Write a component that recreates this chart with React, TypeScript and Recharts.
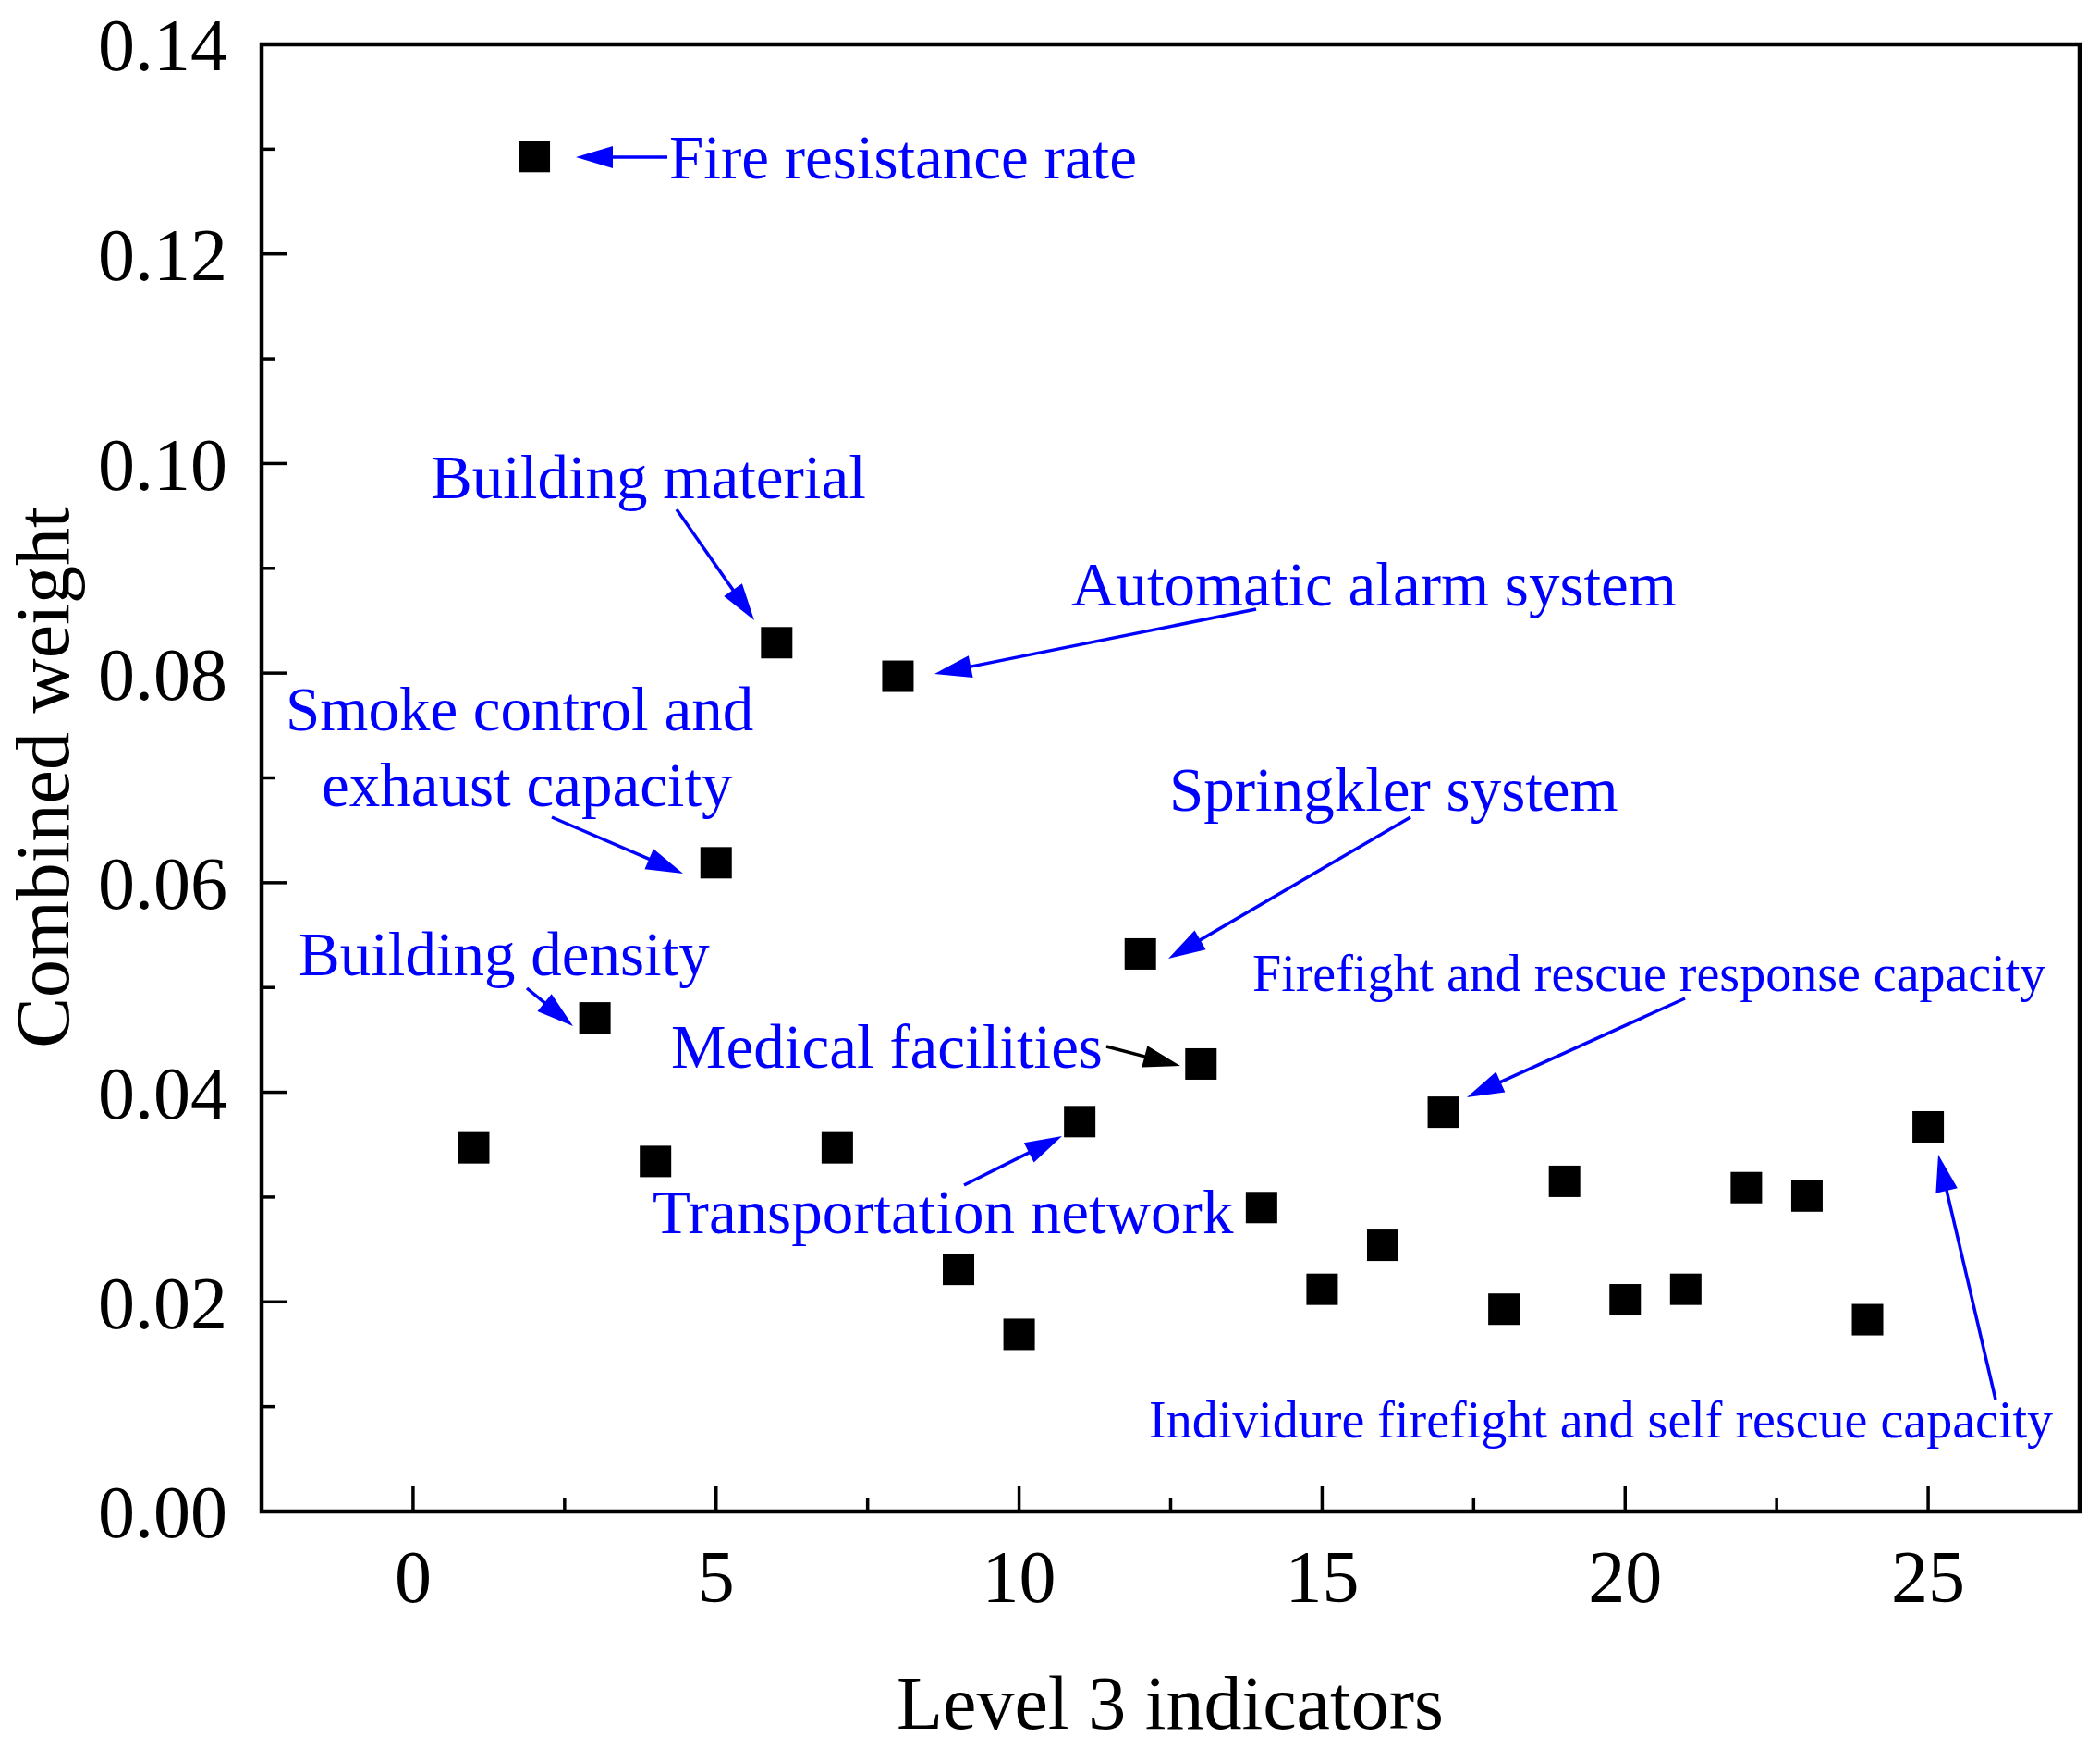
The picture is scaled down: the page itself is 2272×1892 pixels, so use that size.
import React from "react";
import { ScatterChart, Scatter, XAxis, YAxis, ReferenceArea, Label } from "recharts";

const INDICATORS = [1, 2, 3, 4, 5, 6, 7, 8, 9, 10, 11, 12, 13, 14, 15, 16, 17, 18, 19, 20, 21, 22, 23, 24, 25];
const WEIGHTS = [
  0.0347, 0.1293, 0.0471, 0.0334, 0.0619, 0.0829, 0.0347, 0.0797, 0.0231, 0.0169, 0.0372, 0.0532, 0.0427,
  0.029, 0.0212, 0.0254, 0.0381, 0.0193, 0.0315, 0.0202, 0.0212, 0.0309, 0.0301, 0.0183, 0.0367,
];

const X_TICKS = [0, 5, 10, 15, 20, 25];
const X_MINOR = [2.5, 7.5, 12.5, 17.5, 22.5];
const Y_TICKS = [0, 0.02, 0.04, 0.06, 0.08, 0.1, 0.12, 0.14];
const Y_MINOR = [0.01, 0.03, 0.05, 0.07, 0.09, 0.11, 0.13];

const FONT = "'Liberation Serif', 'Times New Roman', serif";
const BLUE = "#0000ff";
const X_GAP = 41; // axis line -> top of x labels
const Y_GAP = 37; // axis line -> right end of y labels

// annotation text + arrow, in pixels of the 2272x1892 picture
type Note = {
  lines: { text: string; x: number; y: number }[];
  size: number;
  from: [number, number];
  to: [number, number];
  color?: string;
};

const NOTES: Note[] = [
  { lines: [{ text: "Fire resistance rate", x: 724, y: 193 }], size: 67, from: [722, 170], to: [623, 170] },
  { lines: [{ text: "Building material", x: 466, y: 539 }], size: 67, from: [732, 551], to: [816, 671] },
  { lines: [{ text: "Automatic alarm system", x: 1159, y: 655 }], size: 67, from: [1359, 659], to: [1011, 729] },
  {
    lines: [
      { text: "Smoke control and", x: 309, y: 790 },
      { text: "exhaust capacity", x: 348, y: 872 },
    ],
    size: 67,
    from: [597, 884],
    to: [739, 945],
  },
  { lines: [{ text: "Springkler system", x: 1265, y: 877 }], size: 67, from: [1526, 884], to: [1264, 1037] },
  { lines: [{ text: "Building density", x: 323, y: 1055 }], size: 67, from: [570, 1069], to: [620, 1110] },
  { lines: [{ text: "Medical facilities", x: 726, y: 1155 }], size: 67, from: [1197, 1132], to: [1277, 1153], color: "#000" },
  { lines: [{ text: "Transportation network", x: 706, y: 1334 }], size: 67, from: [1043, 1282], to: [1149, 1229] },
  {
    lines: [{ text: "Firefight and rescue response capacity", x: 1355, y: 1072 }],
    size: 56,
    from: [1823, 1080],
    to: [1587, 1187],
  },
  {
    lines: [{ text: "Individure firefight and self rescue capacity", x: 1243, y: 1555 }],
    size: 56,
    from: [2159, 1514],
    to: [2097, 1249],
  },
];

function Arrow({ from, to, color }: { from: [number, number]; to: [number, number]; color: string }) {
  const dx = to[0] - from[0];
  const dy = to[1] - from[1];
  const len = Math.sqrt(dx * dx + dy * dy);
  const ux = dx / len;
  const uy = dy / len;
  const head = 40;
  const half = 12;
  const bx = to[0] - ux * head;
  const by = to[1] - uy * head;
  const pts = [
    [to[0], to[1]],
    [bx - uy * half, by + ux * half],
    [bx + uy * half, by - ux * half],
  ]
    .map((p) => p.join(","))
    .join(" ");
  return (
    <g>
      <line x1={from[0]} y1={from[1]} x2={bx + ux * 4} y2={by + uy * 4} stroke={color} strokeWidth={3.5} />
      <polygon points={pts} fill={color} />
    </g>
  );
}

const square = (props: any) => (
  <rect x={props.cx - 17} y={props.cy - 17} width={34} height={34} fill="#000" />
);

// inward tick marks drawn with the labels; minor ticks get no label
const XTick = (props: any) => {
  const v = props.payload.value;
  const minor = X_MINOR.includes(v);
  const axisY = props.y - X_GAP;
  return (
    <g>
      <line x1={props.x} x2={props.x} y1={axisY} y2={axisY - (minor ? 14 : 28)} stroke="#000" strokeWidth={3.5} />
      {!minor && (
        <text x={props.x} y={props.y} dy="0.71em" textAnchor="middle" fontSize={80} fontFamily={FONT} fill="#000">
          {v}
        </text>
      )}
    </g>
  );
};

const YTick = (props: any) => {
  const v = props.payload.value;
  const minor = Y_MINOR.includes(v);
  const axisX = props.x + Y_GAP;
  return (
    <g>
      <line x1={axisX} x2={axisX + (minor ? 14 : 28)} y1={props.y} y2={props.y} stroke="#000" strokeWidth={3.5} />
      {!minor && (
        <text x={props.x} y={props.y} dy="0.355em" textAnchor="end" fontSize={80} fontFamily={FONT} fill="#000">
          {v.toFixed(2)}
        </text>
      )}
    </g>
  );
};

export default function App() {
  const data = INDICATORS.map((x, i) => ({ x, y: WEIGHTS[i] }));

  return (
    <div style={{ position: "absolute", left: 0, top: 0, width: 2272, height: 1892, background: "#fff" }}>
      <ScatterChart width={2272} height={1892} margin={{ top: 48, right: 22, bottom: 57, left: 83 }}>
        <XAxis
          dataKey="x"
          type="number"
          domain={[-2.5, 27.5]}
          allowDataOverflow
          ticks={[...X_TICKS, ...X_MINOR].sort((a, b) => a - b)}
          interval={0}
          tickLine={false}
          axisLine={false}
          tickSize={0}
          tickMargin={X_GAP}
          height={200}
          tick={XTick}
        >
          <Label
            content={() => (
              <text x={1266} y={1870} textAnchor="middle" fontSize={82} fontFamily={FONT} fill="#000">
                Level 3 indicators
              </text>
            )}
          />
        </XAxis>
        <YAxis
          dataKey="y"
          type="number"
          domain={[0, 0.14]}
          allowDataOverflow
          ticks={[...Y_TICKS, ...Y_MINOR].sort((a, b) => a - b)}
          interval={0}
          tickLine={false}
          axisLine={false}
          tickSize={0}
          tickMargin={Y_GAP}
          width={200}
          tick={YTick}
        >
          <Label
            content={() => (
              <text
                x={74}
                y={841}
                transform="rotate(-90, 74, 841)"
                textAnchor="middle"
                fontSize={82}
                fontFamily={FONT}
                fill="#000"
              >
                Combined weight
              </text>
            )}
          />
        </YAxis>
        <ReferenceArea
          x1={-2.5}
          x2={27.5}
          y1={0}
          y2={0.14}
          fill="none"
          stroke="#000"
          strokeWidth={4.5}
          ifOverflow="visible"
        />
        <Scatter data={data} shape={square} isAnimationActive={false} />
      </ScatterChart>
      <svg
        width={2272}
        height={1892}
        style={{ position: "absolute", left: 0, top: 0, pointerEvents: "none" }}
      >
        {NOTES.map((n, i) => (
          <g key={i}>
            {n.lines.map((l) => (
              <text key={l.text} x={l.x} y={l.y} fontSize={n.size} fontFamily={FONT} fill={BLUE}>
                {l.text}
              </text>
            ))}
            <Arrow from={n.from} to={n.to} color={n.color ?? BLUE} />
          </g>
        ))}
      </svg>
    </div>
  );
}
